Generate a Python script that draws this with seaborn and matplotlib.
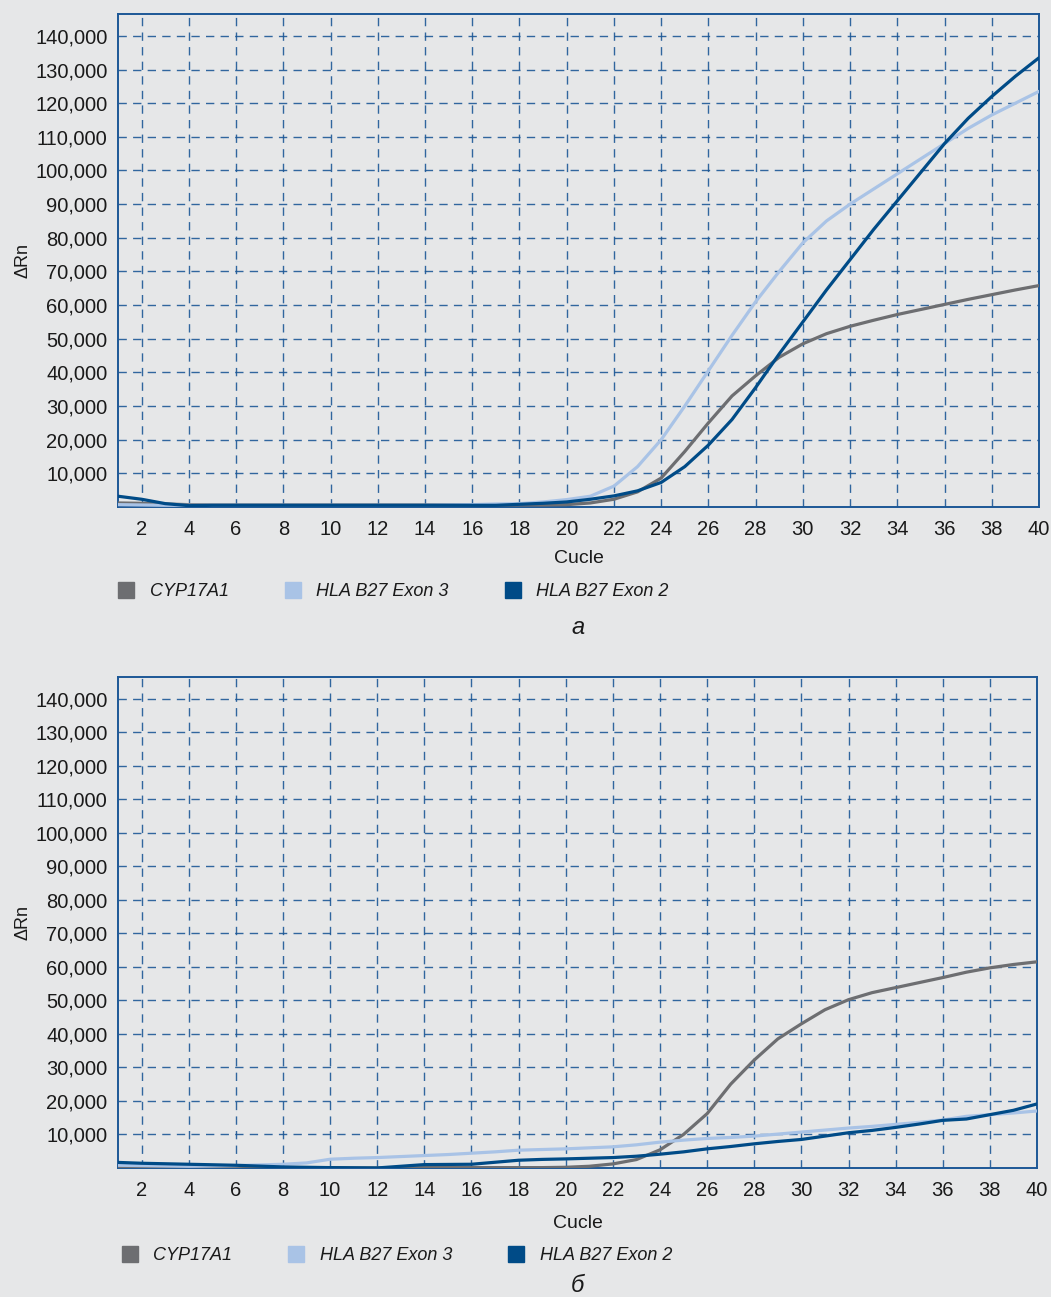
import numpy as np
import pandas as pd
import matplotlib
matplotlib.use("Agg")
import matplotlib.pyplot as plt
from matplotlib.lines import Line2D
from matplotlib.ticker import FuncFormatter
import seaborn as sns

# cycles
cycles = list(range(1, 41))

# panel a
cyp_a = [1200, 1100, 900, 700, 600, 600, 600, 600, 600, 600,
         600, 600, 600, 600, 600, 600, 600, 600, 600, 700,
         1200, 2300, 4500, 8600, 16500, 25000, 33000, 39000, 44500, 48500,
         51500, 53700, 55500, 57200, 58700, 60200, 61700, 63100, 64500, 65800]
exon3_a = [700, 600, 500, 500, 500, 500, 500, 500, 500, 500,
           500, 500, 500, 500, 600, 700, 900, 1000, 1500, 2200,
           3200, 6200, 12000, 20000, 30000, 40500, 51000, 61000, 70000, 78500,
           85000, 90000, 94500, 99000, 103500, 108000, 112500, 116500, 120000, 123500]
exon2_a = [3200, 2300, 1000, 400, 500, 500, 500, 500, 500, 500,
           500, 500, 500, 500, 500, 500, 500, 800, 1100, 1500,
           2300, 3300, 4800, 7300, 12000, 18400, 26000, 35500, 45500, 55000,
           64500, 73500, 82500, 91000, 99500, 108000, 115500, 122000, 128000, 133500]

# panel b
cyp_b = [100, 100, 100, 100, 100, 100, 100, 100, 100, 100,
         0, 0, 0, 100, 100, 100, 100, 100, 100, 200,
         500, 1200, 2500, 5400, 10000, 16200, 25000, 32200, 38500, 43000,
         47200, 50200, 52300, 53800, 55300, 56800, 58400, 59700, 60700, 61500]
exon3_b = [800, 700, 600, 500, 600, 700, 900, 1100, 1500, 2600,
           2900, 3100, 3400, 3700, 4000, 4400, 4800, 5300, 5500, 5700,
           6000, 6300, 6900, 7700, 8300, 8800, 9100, 9500, 10100, 10700,
           11300, 11900, 12400, 13000, 13600, 14300, 15400, 15900, 16400, 17000]
exon2_b = [1650, 1400, 1250, 1100, 950, 800, 550, 300, 200, 100,
           50, 0, 500, 1000, 1050, 1100, 1700, 2300, 2550, 2700,
           2900, 3100, 3500, 4100, 4800, 5700, 6400, 7200, 7900, 8500,
           9500, 10500, 11200, 12100, 13100, 14200, 14600, 15900, 17200, 19100]

targets = ["CYP17A1", "HLA B27 Exon 3", "HLA B27 Exon 2"]
colors = {"CYP17A1": "#6d6e71", "HLA B27 Exon 3": "#a9c3e6", "HLA B27 Exon 2": "#004b87"}
y_ticks = list(range(10000, 150000, 10000))
x_ticks = list(range(2, 41, 2))

bg = "#e6e7e8"
blue = "#1d5896"

sns.set_theme(style="white")
plt.rcParams["font.family"] = ["Liberation Sans Narrow", "Liberation Sans", "DejaVu Sans"]

fig = plt.figure(figsize=(10.51, 12.97), dpi=100, facecolor=bg)
ax_a = fig.add_axes([0.1123, 0.6091, 0.8763, 0.3801])
ax_b = fig.add_axes([0.1123, 0.0995, 0.8744, 0.3786])


def make_df(s1, s2, s3):
    parts = []
    for name, vals in zip(targets, [s1, s2, s3]):
        parts.append(pd.DataFrame({"cycle": cycles, "dRn": vals, "target": name}))
    return pd.concat(parts, ignore_index=True)


panels = [(ax_a, make_df(cyp_a, exon3_a, exon2_a), "а", -0.172, -0.245, 8, 0.0),
          (ax_b, make_df(cyp_b, exon3_b, exon2_b), "б", -0.179, -0.240, 11, 0.004)]

for ax, df, letter, leg_y, let_y, xpad, leg_x in panels:
    ax.set_facecolor(bg)
    sns.lineplot(data=df, x="cycle", y="dRn", hue="target", palette=colors,
                 hue_order=targets, linewidth=2.3, legend=False, ax=ax, zorder=3)
    ax.set_xlim(1, 40)
    ax.set_ylim(0, 146500)
    ax.set_xticks(x_ticks)
    ax.set_yticks(y_ticks)
    ax.yaxis.set_major_formatter(FuncFormatter(lambda v, p: f"{int(v):,}"))
    ax.grid(True, color=blue, linestyle=(0, (6, 4.5)), linewidth=1.0, alpha=0.9)
    for sp in ax.spines.values():
        sp.set_color(blue)
        sp.set_linewidth(1.4)
    ax.tick_params(axis="both", direction="inout", length=7, width=1.2, color=blue,
                   labelsize=14.5, labelcolor="#1a1a1a", pad=4)
    ax.tick_params(axis="x", pad=6)
    ax.set_xlabel("Cucle", fontsize=14, color="#1a1a1a", labelpad=xpad)
    ax.set_ylabel("ΔRn", fontsize=13, color="#1a1a1a", labelpad=3)

    handles = [Line2D([0], [0], marker="s", linestyle="none", markersize=11,
                      markerfacecolor=colors[t], markeredgecolor=colors[t]) for t in targets]
    leg = ax.legend(handles, targets, loc="center left", bbox_to_anchor=(leg_x, leg_y),
                    ncol=3, frameon=False, handlelength=0.9, handletextpad=0.85,
                    columnspacing=3.1, borderaxespad=0, borderpad=0,
                    prop={"size": 13, "style": "italic"})
    for txt in leg.get_texts():
        txt.set_color("#1a1a1a")
    ax.text(0.5, let_y, letter, transform=ax.transAxes, ha="center", va="center",
            fontsize=17, style="italic", color="#1a1a1a")

fig.savefig("out.png", dpi=100, facecolor=bg)
